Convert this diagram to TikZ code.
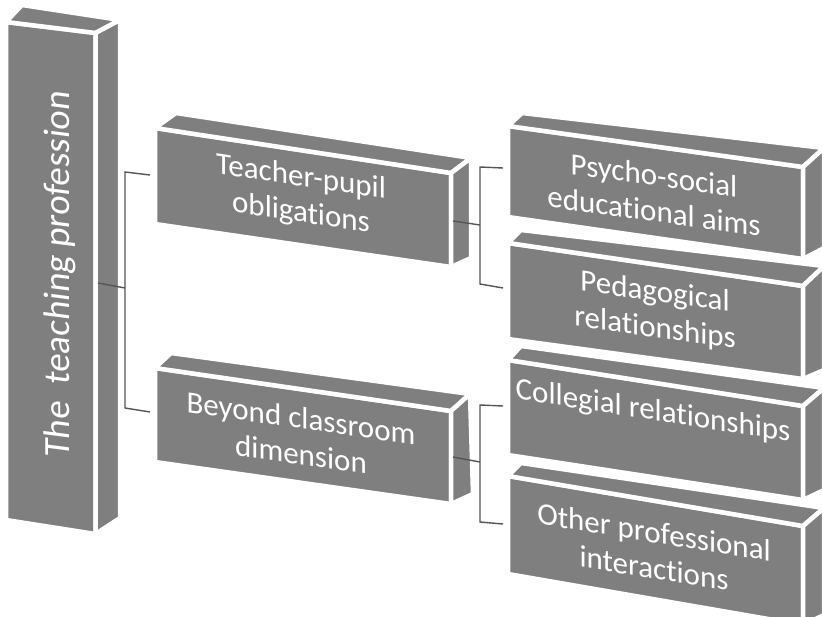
\documentclass[tikz,border=0pt]{standalone}
\usepackage{fontspec}
\setmainfont{Carlito}[Ligatures={NoCommon}]
\definecolor{facegray}{RGB}{127,127,127}
\definecolor{linegray}{RGB}{85,85,85}
\tikzset{
  face/.style={fill=facegray, draw=white, line width=4.5pt, line join=round},
  conn/.style={draw=linegray, line width=1.4pt},
  lbl/.style={text=white, font=\fontsize{31}{36}\selectfont, align=center, inner sep=0pt, transform shape},
  biglbl/.style={text=white, font=\fontsize{37}{44}\selectfont, inner sep=0pt, transform shape},
}
% front TL, TR, BR, BL, back TL, back TR, back BR
\newcommand\cuboid[7]{%
  \path[face] #1 -- #2 -- #3 -- #4 -- cycle;
  \path[face] #1 -- #2 -- #6 -- #5 -- cycle;
  \path[face] #2 -- #6 -- #7 -- #3 -- cycle;
}
\begin{document}
\begin{tikzpicture}[x=1pt,y=-1pt]
\useasboundingbox (0,0) rectangle (822,617);
\clip (0,0) rectangle (822,617);
% boxes
\cuboid{(6,22)}{(95.5,33)}{(95.5,534)}{(6,520)}{(22,5)}{(120,20)}{(120,518)}
\cuboid{(155,128)}{(451,173)}{(451,267)}{(155,224)}{(176,113)}{(471,158)}{(471,258)}
\cuboid{(155,368)}{(451,411)}{(451,504)}{(155,462)}{(171,353)}{(470,394)}{(473,494)}
\cuboid{(508,126)}{(803,167)}{(803,259)}{(508,217)}{(522,113)}{(824,148)}{(824,248)}
\cuboid{(508,243)}{(803,286)}{(803,379)}{(508,339)}{(521,230)}{(824,266)}{(824,370)}
\cuboid{(508,360)}{(803,406)}{(803,500)}{(508,455)}{(521,346)}{(824,388)}{(824,490)}
\cuboid{(508,476)}{(803,526)}{(803,625)}{(508,574)}{(521,463)}{(824,508)}{(824,615)}
% labels
\begin{scope}[shift={(60,274)}]
  \node[biglbl, yslant=-0.13, rotate=90] (tp) at (0,0) {The~ teaching profession};
\end{scope}
\begin{scope}[shift={(301,196)}]
  \node[lbl, yslant=-0.15] (tpo) at (0,0) {Teacher-pupil\\obligations};
\end{scope}
\begin{scope}[shift={(301,436)}]
  \node[lbl, yslant=-0.143] (bcd) at (0,0) {Beyond classroom\\dimension};
\end{scope}
\begin{scope}[shift={(654,193)}]
  \node[lbl, yslant=-0.138] (psa) at (0,0) {Psycho-social\\educational aims};
\end{scope}
\begin{scope}[shift={(655,311)}]
  \node[lbl, yslant=-0.142] (pr) at (0,0) {Pedagogical\\relationships};
\end{scope}
\begin{scope}[shift={(653,412)}]
  \node[lbl, yslant=-0.156] (cr) at (0,0) {Collegial relationships};
\end{scope}
\begin{scope}[shift={(654,550)}]
  \node[lbl, yslant=-0.16] (opi) at (0,0) {Other professional\\interactions};
\end{scope}
% connectors
\coordinate (a0) at (98,283);
\coordinate (a1) at (125,288);
\coordinate (at) at (125,172);
\coordinate (au) at (150,175);
\coordinate (ab) at (125,408);
\coordinate (ad) at (150,412);
\draw[conn] (a0) -- (a1);
\draw[conn] (au) -- (at) -- (ab) -- (ad);
\coordinate (b0) at (453,221);
\coordinate (b1) at (480,225);
\coordinate (bt) at (480,167);
\coordinate (bu) at (503,168);
\coordinate (bb) at (480,284);
\coordinate (bd) at (503,288);
\draw[conn] (b0) -- (b1);
\draw[conn] (bu) -- (bt) -- (bb) -- (bd);
\coordinate (c0) at (453,457);
\coordinate (c1) at (480,462);
\coordinate (ct) at (480,405);
\coordinate (cu) at (503,406);
\coordinate (cb) at (480,522);
\coordinate (cd) at (503,524);
\draw[conn] (c0) -- (c1);
\draw[conn] (cu) -- (ct) -- (cb) -- (cd);
\end{tikzpicture}
\end{document}
